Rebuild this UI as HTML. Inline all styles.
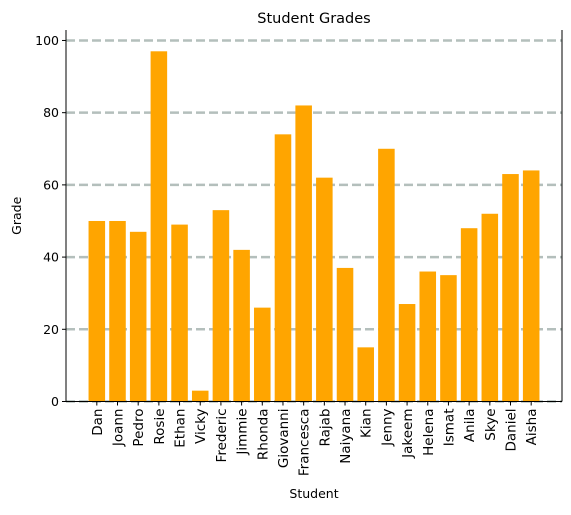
<!DOCTYPE html>
<html><head><meta charset="utf-8"><style>
body{margin:0;background:#fff;font-family:"Liberation Sans","DejaVu Sans",sans-serif;}
svg text{font-family:"DejaVu Sans","Liberation Sans",sans-serif;}
</style></head><body>
<svg id="chart" width="571" height="510" xmlns="http://www.w3.org/2000/svg"></svg>
<script>
const categories=["Dan","Joann","Pedro","Rosie","Ethan","Vicky","Frederic","Jimmie","Rhonda","Giovanni","Francesca","Rajab","Naiyana","Kian","Jenny","Jakeem","Helena","Ismat","Anila","Skye","Daniel","Aisha"];
const grades=[50,50,47,97,49,3,53,42,26,74,82,62,37,15,70,27,36,35,48,52,63,64];
const yTicks=[0,20,40,60,80,100];
const NS="http://www.w3.org/2000/svg";
const svg=document.getElementById('chart');
const L=66,R=562,T=30,B=401.5;
const n=categories.length;
const xmin=-0.4-(n-0.2)*0.05, xmax=n-1+0.4+(n-0.2)*0.05;
const ymaxAx=Math.max(Math.max(...grades)*1.05+0.5,102.9);
function x(v){return L+(v-xmin)/(xmax-xmin)*(R-L);}
function y(v){return B-v/ymaxAx*(B-T);}
function el(t,a,p){const e=document.createElementNS(NS,t);for(const k in a)e.setAttribute(k,a[k]);(p||svg).appendChild(e);return e;}
const bw=0.8*(R-L)/(xmax-xmin);
yTicks.forEach(t=>{
  const g=el('line',{x1:L,x2:R,y1:y(t),y2:y(t),stroke:'#b4bfbc',"stroke-width":2.5,"stroke-dasharray":"9,4"});
  
  
  el('line',{x1:L-4,x2:L,y1:y(t),y2:y(t),stroke:'#000'});
  const tx=el('text',{x:L-7,y:y(t)+4.5,"text-anchor":"end","font-size":12.5});
  tx.textContent=t;
  
  
});
grades.forEach((g,i)=>{
  const r=el('rect',{x:x(i)-bw/2,y:y(g),width:bw,height:B-y(g),fill:'#ffa500'});
  
  
});
categories.forEach((c,i)=>{
  el('line',{x1:x(i),x2:x(i),y1:B,y2:B+4,stroke:'#000'});
  const tx=el('text',{transform:`translate(${x(i)+5},${B+7}) rotate(-90)`,"text-anchor":"end","font-size":13.5});
  tx.textContent=c;
  
  
});
el('line',{x1:L,x2:L,y1:T,y2:B,stroke:'#000'});
el('line',{x1:R,x2:R,y1:T,y2:B,stroke:'#000'});
el('line',{x1:L,x2:R,y1:B,y2:B,stroke:'#000'});
const title=el('text',{x:(L+R)/2,y:23,"text-anchor":"middle","font-size":14.5});
title.textContent='Student Grades';


const xl=el('text',{x:(L+R)/2,y:498,"text-anchor":"middle","font-size":12.5});
xl.textContent='Student';


const yl=el('text',{transform:`translate(21,${(T+B)/2}) rotate(-90)`,"text-anchor":"middle","font-size":12.5});
yl.textContent='Grade';


</script>
</body></html>
